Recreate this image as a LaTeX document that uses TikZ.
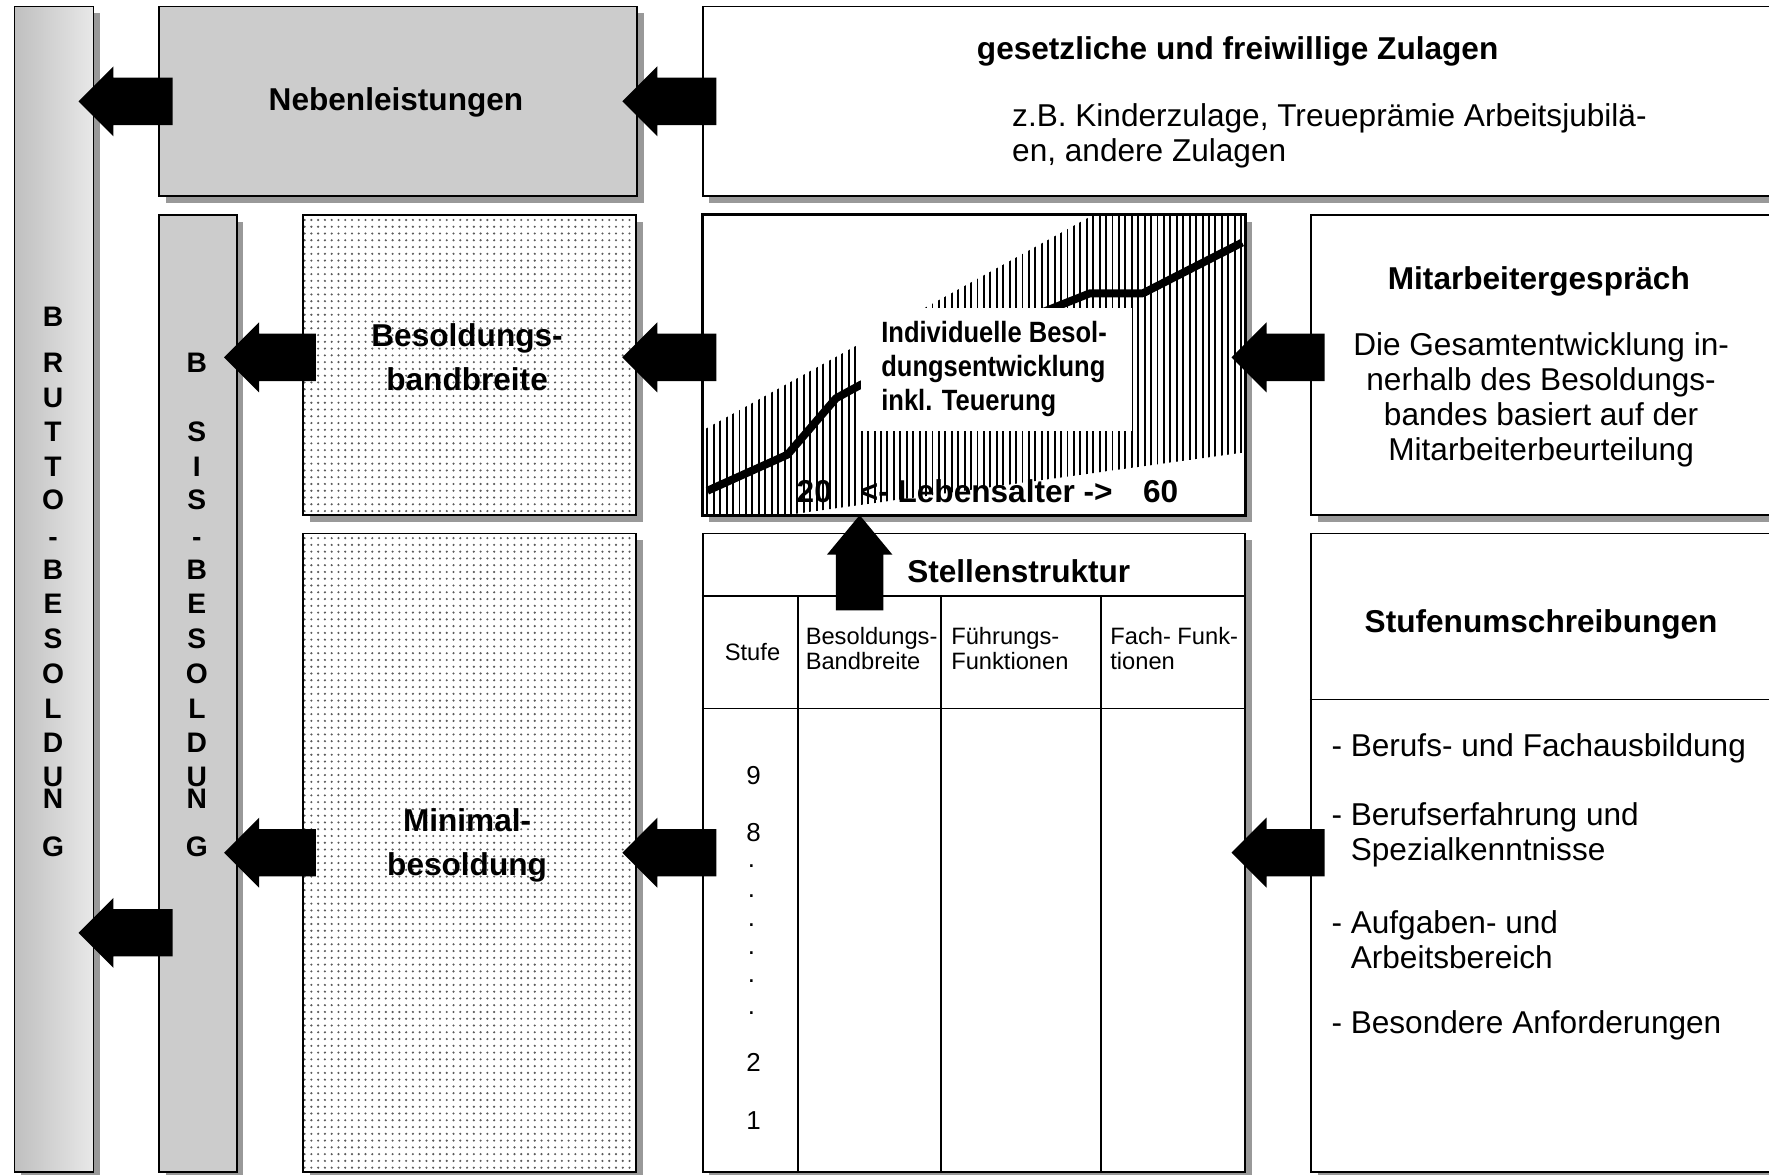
\documentclass[tikz,border=0pt]{standalone}
\usepackage{fontspec}
\setmainfont{Liberation Sans}
\newfontfamily\narrowsans[FakeStretch=0.87]{Liberation Sans}
\usetikzlibrary{calc,shadows,patterns.meta}

\newcommand\leftblock[2]{%
  \fill[black] let \p1=#1, \p2=#2 in
    (\x1,\y1) -- (\x1+31pt,\y1+31pt) -- (\x1+31pt,\y1+21pt) -- (\x2,\y1+21pt)
    -- (\x2,\y1-21pt) -- (\x1+31pt,\y1-21pt) -- (\x1+31pt,\y1-31pt) -- cycle;}
\newcommand\upblock[2]{%
  \fill[black] let \p1=#1, \p2=#2 in
    (\x1,\y1) -- (\x1+29pt,\y1-35pt) -- (\x1+21pt,\y1-35pt) -- (\x1+21pt,\y2)
    -- (\x1-21pt,\y2) -- (\x1-21pt,\y1-35pt) -- (\x1-29pt,\y1-35pt) -- cycle;}

\begin{document}
\begin{tikzpicture}[x=1pt,y=-1pt,
  box/.style={draw=black, line width=1.6pt, inner sep=0pt, anchor=north west,
    general shadow={fill=black!40, shadow xshift=6pt, shadow yshift=-6pt}},
  dotbox/.style={box, preaction={fill=white},
    pattern={Dots[distance=6pt,radius=1.05pt]}, pattern color=black!65},
  hdr/.style={font=\bfseries\fontsize{28}{31}\selectfont, inner sep=0pt},
  big/.style={font=\bfseries\fontsize{28}{39}\selectfont, align=center, inner sep=0pt},
  txt/.style={font=\fontsize{28}{31}\selectfont, inner sep=0pt},
  lbltxt/.style={font=\narrowsans\bfseries\fontsize{26}{30}\selectfont, align=left, inner sep=0pt},
  axis/.style={font=\bfseries\fontsize{28}{31}\selectfont, inner sep=0pt, anchor=base west},
  colhd/.style={font=\fontsize{21}{22}\selectfont, inner sep=0pt, align=left},
  num/.style={font=\fontsize{23}{24}\selectfont, inner sep=0pt},
  letter/.style={font=\bfseries\fontsize{25}{25}\selectfont, inner sep=0pt, text height=18pt, text depth=0pt},
  tline/.style={line width=1.6pt}
]
\path[use as bounding box, clip] (0,0) rectangle (1568,1041);
\fill[white] (0,0) rectangle (1568,1041);

% ---------- boxes ----------
\node[box, left color=black!25, right color=black!9, minimum width=70pt, minimum height=1033pt] (brutto) at (12,5) {};
\node[box, fill=black!20, minimum width=69pt, minimum height=848pt] (basis) at (140,190) {};
\node[box, fill=black!20, minimum width=424pt, minimum height=168pt] (neben) at (140,5) {};
\node[box, fill=white, minimum width=1000pt, minimum height=168pt] (zulagen) at (622,5) {};
\node[dotbox, minimum width=295pt, minimum height=266pt] (bandbreite) at (268,190) {};
\node[dotbox, minimum width=295pt, minimum height=566pt] (minimal) at (268,472) {};
\node[box, fill=white, minimum width=481pt, minimum height=266pt] (chart) at (622,190) {};
\node[box, fill=white, minimum width=500pt, minimum height=266pt] (mitarb) at (1161,190) {};
\node[box, fill=white, minimum width=481pt, minimum height=566pt] (stellen) at (622,472) {};
\node[box, fill=white, minimum width=500pt, minimum height=566pt] (stufen) at (1161,472) {};

% ---------- vertical letters ----------
\foreach \l/\yy in {B/280, R/321, U/352, T/382, T/413, O/443, -/475, B/505, E/535, S/566, O/597, L/628, D/658, U/688, N/708, G/750}
  \node[letter] (br-\yy) at (47,\yy) {\l};
\foreach \l/\yy in {B/321, S/382, I/413, S/443, -/475, B/505, E/535, S/566, O/597, L/628, D/658, U/688, N/708, G/750}
  \node[letter] (ba-\yy) at (174.5,\yy) {\l};

% ---------- texts of boxes ----------
\node[hdr, anchor=base] (nebentxt) at (351,98) {Nebenleistungen};
\node[hdr, anchor=base] (zultitle) at (1097,53) {gesetzliche und freiwillige Zulagen};
\node[txt, align=left, anchor=west] (zultxt) at (897,120) {z.B. Kinderzulage, Treueprämie Arbeitsjubilä-\\en, andere Zulagen};
\node[big] (bbtxt) at (414,317) {Besoldungs-\\bandbreite};
\node[big] (mintxt) at (414,749) {Minimal-\\besoldung};
\node[hdr, anchor=base] (mitarbtitle) at (1364,257) {Mitarbeitergespräch};
\node[txt, align=center] (mitarbtxt) at (1366,354) {Die Gesamtentwicklung in-\\nerhalb des Besoldungs-\\bandes basiert auf der\\Mitarbeiterbeurteilung};

% ---------- chart ----------
\fill[pattern={Lines[angle=90,distance=5.7pt,line width=1.7pt]}, pattern color=black]
  (622,382) -- (970,190) -- (1103,190) -- (1103,401) -- (701,456) -- (622,456) -- cycle;
\draw[line width=7pt, line join=round] (627,435) -- (698,403) -- (741,353) -- (763,341) -- (966,260) -- (1013,260) -- (1101,215);
\node[fill=white, inner sep=0pt, minimum width=240pt, minimum height=109pt, anchor=north west] (lblbox) at (763,273) {};
\node[lbltxt, anchor=west] (lbltext) at (781,327) {Individuelle Besol-\\dungsentwicklung\\inkl. Teuerung};
\node[axis] (a20) at (706,445) {20};
\node[axis] (alter) at (762,445) {<- Lebensalter ->};
\node[axis] (a60) at (1013,445) {60};
\draw[line width=1.6pt] (chart.north west) rectangle (chart.south east);

% ---------- table ----------
\draw[tline] (622,528) -- (1103,528);
\draw[tline] (622,628) -- (1103,628);
\draw[tline] (707,528) -- (707,1038);
\draw[tline] (834,528) -- (834,1038);
\draw[tline] (976,528) -- (976,1038);
\node[hdr, anchor=base] (sttitle) at (903,516) {Stellenstruktur};
\node[colhd] (c1) at (667,578) {Stufe};
\node[colhd, anchor=west] (c2) at (714,575) {Besoldungs-\\Bandbreite};
\node[colhd, anchor=west] (c3) at (843,575) {Führungs-\\Funktionen};
\node[colhd, anchor=west] (c4) at (984,575) {Fach- Funk-\\tionen};
\node[num] (n9) at (668,687) {9};
\node[num] (n8) at (668,738) {8};
\foreach \yy in {768,794,820,845,870,898}
  \node[num] (d\yy) at (666,\yy) {.};
\node[num] (n2) at (668,942) {2};
\node[num] (n1) at (668,993) {1};

% ---------- Stufenumschreibungen ----------
\draw[tline] (1161,620) -- (1568,620);
\node[hdr, anchor=base] (sftitle) at (1366,561) {Stufenumschreibungen};
\node[txt, anchor=west] (s1) at (1180,663) {- Berufs- und Fachausbildung};
\node[txt, anchor=west, align=left] (s2) at (1180,740) {- Berufserfahrung und\\\hphantom{- }Spezialkenntnisse};
\node[txt, anchor=west, align=left] (s3) at (1180,833) {- Aufgaben- und\\\hphantom{- }Arbeitsbereich};
\node[txt, anchor=west] (s4) at (1180,909) {- Besondere Anforderungen};

% ---------- block arrows ----------
\leftblock{($(brutto.east |- neben.west)+(-14,0)$)}{($(neben.west)+(13,0)$)}
\leftblock{($(neben.east)+(-14,0)$)}{($(zulagen.west)+(13,0)$)}
\leftblock{($(basis.east |- bandbreite.west)+(-12,-7)$)}{($(bandbreite.west)+(12,-7)$)}
\leftblock{($(bandbreite.east)+(-13,-7)$)}{($(chart.west)+(13,-7)$)}
\leftblock{($(chart.east)+(-13,-7)$)}{($(mitarb.west)+(13,-7)$)}
\leftblock{($(basis.east |- minimal.west)+(-12,0)$)}{($(minimal.west)+(12,0)$)}
\leftblock{($(minimal.east)+(-13,0)$)}{($(stellen.west)+(13,0)$)}
\leftblock{($(stellen.east)+(-13,0)$)}{($(stufen.west)+(13,0)$)}
\leftblock{($(brutto.east |- basis.west)+(-14,212)$)}{($(basis.west)+(13,212)$)}
\upblock{($(chart.south west)+(140,-1)$)}{($(stellen.north west)+(140,69)$)}
\end{tikzpicture}
\end{document}
